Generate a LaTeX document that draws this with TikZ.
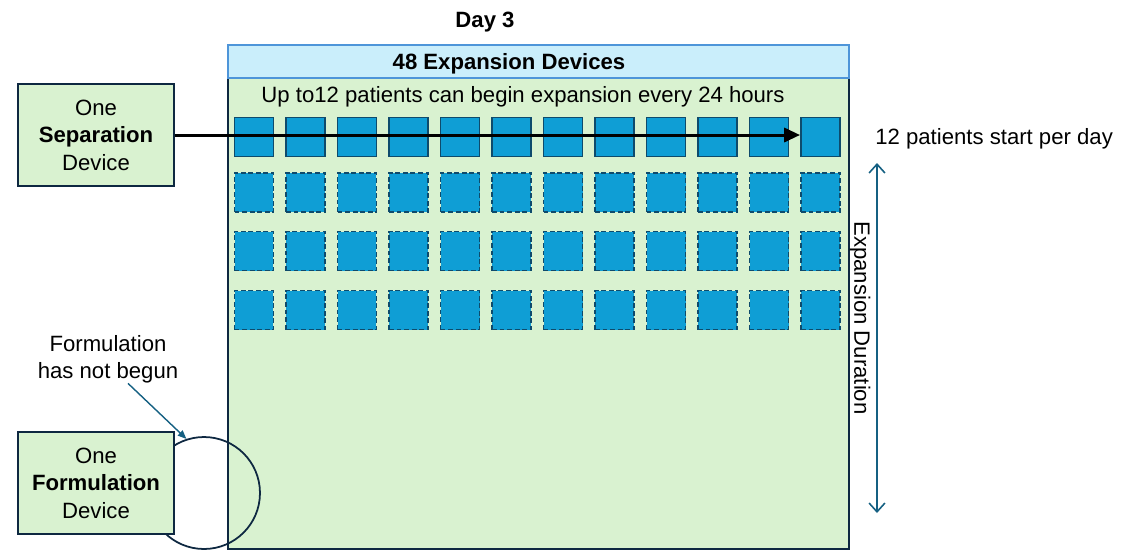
\documentclass[tikz,border=0pt]{standalone}
\usepackage{fontspec}
\setmainfont{Liberation Sans}
\usetikzlibrary{arrows.meta}

\definecolor{poolgreen}{HTML}{D9F2D0}
\definecolor{navy}{HTML}{0E2841}
\definecolor{headfill}{HTML}{CAEEFB}
\definecolor{headline}{HTML}{4E95D9}
\definecolor{devfill}{HTML}{0F9ED5}
\definecolor{devline}{HTML}{0E4B6C}
\definecolor{teal}{HTML}{156082}

\tikzset{
  txt/.style={font=\fontsize{12.6}{15.6}\selectfont, inner sep=0pt},
  boldtxt/.style={txt, font=\fontsize{12.6}{15.6}\selectfont\bfseries},
  unitbox/.style={draw=navy, line width=1.1pt, fill=poolgreen, minimum width=3.12cm,
    minimum height=2.04cm, align=center, txt},
  dev/.style={draw=devline, line width=1.1pt, fill=devfill, minimum size=0.78cm, inner sep=0pt},
  planned/.style={dev, dash pattern=on 2.8pt off 1.5pt},
}

\begin{document}
\begin{tikzpicture}[x=0.02cm, y=-0.02cm]
\useasboundingbox (0,0) rectangle (1123,559);

\node[boldtxt] (day) at (485,22) {Day 3};

% expansion pool
\node[draw=navy, line width=1.1pt, fill=poolgreen, minimum width=12.42cm, minimum height=9.42cm] (pool) at (538.5,313.5) {};
\node[draw=headline, line width=1pt, fill=headfill, minimum width=12.42cm, minimum height=0.66cm] (head) at (538.5,61.5) {};
\node[boldtxt] (headtxt) at (509,64) {48 Expansion Devices};
\node[txt] (rate) at (523,97) {Up to12 patients can begin expansion every 24 hours};

% devices, row 1 started, rows 2-4 still to come
\foreach \i in {1,...,12}{
  \node[dev] (r1c\i) at (202.5+51.5*\i,137) {};
  \node[planned] (r2c\i) at (202.5+51.5*\i,192.5) {};
  \node[planned] (r3c\i) at (202.5+51.5*\i,251) {};
  \node[planned] (r4c\i) at (202.5+51.5*\i,310) {};
}

% separation
\node[unitbox] (sep) at (96,135) {One\\\textbf{Separation}\\Device};
\draw[line width=1.7pt, -{Triangle[length=9pt, width=8pt]}] (sep.east) -- (sep.east -| r1c12.west);

\node[txt, anchor=west] (perday) at (875,139) {12 patients start per day};

% duration
\coordinate (durtop) at (877,163);
\coordinate (durbot) at (877,513);
\draw[teal, line width=0.9pt, {Straight Barb[length=5pt, width=9pt]}-{Straight Barb[length=5pt, width=9pt]}] (durtop) -- (durbot);
\node[txt, rotate=-90] (durtxt) at (860,318) {Expansion Duration};

% formulation
\node[draw=navy, line width=1pt, circle, minimum size=2.24cm, inner sep=0pt] (ring) at (204,493) {};
\node[unitbox] (form) at (96,483) {One\\\textbf{Formulation}\\Device};
\node[txt, align=center] (note) at (108,359) {Formulation\\has not begun};
\draw[teal, line width=0.8pt, -{Triangle[length=5pt, width=4pt]}] ([xshift=0.4cm]note.south) -- (ring.108);
\end{tikzpicture}
\end{document}
